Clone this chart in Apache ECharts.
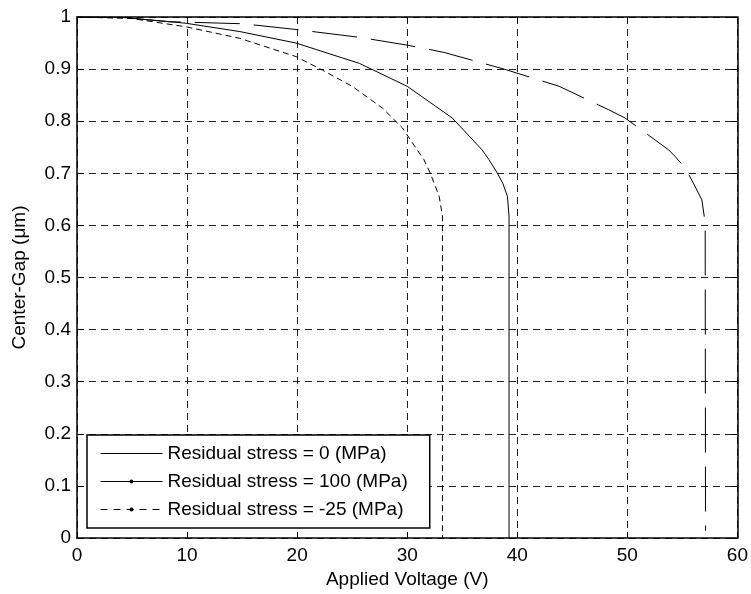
<!DOCTYPE html>
<html>
<head>
<meta charset="utf-8">
<script src="https://cdn.jsdelivr.net/npm/echarts@6/dist/echarts.min.js"></script>
<style>
html,body{margin:0;padding:0;background:#fff;}
#c{width:751px;height:594px;}
</style>
</head>
<body>
<div id="c"></div>
<script>
// Data
var seriesNames = ['Residual stress = 0 (MPa)', 'Residual stress = 100 (MPa)', 'Residual stress = -25 (MPa)'];

var s0V = [0, 4.2, 9.9, 14.8, 19.9, 25.65, 30.0, 34.1, 36.8, 37.4, 38.2, 38.7, 39.1, 39.25, 39.25];
var s0G = [1, 0.999, 0.988, 0.972, 0.950, 0.911, 0.867, 0.806, 0.745, 0.727, 0.700, 0.680, 0.656, 0.618, 0];

var s100V = [0, 4.2, 8.4, 15.1, 19.9, 25.65, 30.0, 33.35, 38.8, 43.8, 48.3, 49.8, 53.75, 54.35, 55.26, 56.0, 56.77, 57.07, 57.1];
var s100G = [1, 0.999, 0.991, 0.987, 0.976, 0.961, 0.946, 0.932, 0.900, 0.867, 0.822, 0.806, 0.745, 0.732, 0.710, 0.681, 0.649, 0.605, 0.014];

var sm25V = [0, 5.0, 9.94, 14.8, 19.9, 22.3, 25.0, 27.76, 29.57, 30.9, 31.5, 32.1, 32.9, 33.2, 33.2];
var sm25G = [1, 0.997, 0.981, 0.959, 0.924, 0.898, 0.867, 0.825, 0.787, 0.745, 0.727, 0.700, 0.656, 0.618, 0];

var xMin = 0, xMax = 60, xStep = 10;
var yMin = 0, yMax = 1, yStep = 0.1;

function pairs(a, b) { return a.map(function (v, i) { return [v, b[i]]; }); }

var FONT = 'Liberation Sans, Arial, sans-serif';
var FS = 19;
var chart = echarts.init(document.getElementById('c'), null, {renderer: 'canvas'});
var gridLine = {show: true, lineStyle: {color: '#222', width: 1, type: [7, 5]}};
var boxLine = {show: true, onZero: false, lineStyle: {color: '#000', width: 1.5}};
var tick = {show: true, inside: true, length: 6, lineStyle: {color: '#000', width: 1}};

chart.setOption({
  animation: false,
  backgroundColor: '#fff',
  textStyle: {fontFamily: FONT, color: '#000'},
  grid: {left: 77, right: 12, top: 17, bottom: 55},
  xAxis: [{
    type: 'value', min: xMin, max: xMax, interval: xStep,
    name: 'Applied Voltage (V)', nameLocation: 'middle', nameGap: 32,
    nameTextStyle: {fontSize: FS, color: '#000', fontFamily: FONT},
    axisLine: boxLine, axisTick: tick,
    axisLabel: {fontSize: FS, color: '#000', margin: 8, fontFamily: FONT},
    splitLine: gridLine
  }, {
    type: 'value', min: xMin, max: xMax, interval: xStep, position: 'top',
    axisLine: boxLine, axisTick: tick,
    axisLabel: {show: false}, splitLine: {show: false}
  }],
  yAxis: [{
    type: 'value', min: yMin, max: yMax, interval: yStep,
    name: 'Center-Gap (\u03bcm)', nameLocation: 'middle', nameGap: 48,
    nameTextStyle: {fontSize: FS, color: '#000', fontFamily: FONT},
    axisLine: boxLine, axisTick: tick,
    axisLabel: {fontSize: FS, color: '#000', margin: 6, fontFamily: FONT},
    splitLine: gridLine
  }, {
    type: 'value', min: yMin, max: yMax, interval: yStep, position: 'right',
    axisLine: boxLine, axisTick: tick,
    axisLabel: {show: false}, splitLine: {show: false}
  }],
  legend: {
    orient: 'vertical', left: 87, top: 435,
    backgroundColor: '#fff', borderColor: '#000', borderWidth: 1.5,
    padding: [9, 22, 9, 13],
    itemWidth: 62, itemHeight: 5, itemGap: 9,
    textStyle: {fontSize: FS, color: '#000', fontFamily: FONT, lineHeight: 19},
    data: [
      {name: seriesNames[0], lineStyle: {width: 1, type: 'solid'}, itemStyle: {color: 'rgba(0,0,0,0)', opacity: 0}},
      {name: seriesNames[1], lineStyle: {width: 1, type: 'solid'}},
      {name: seriesNames[2], lineStyle: {width: 1, type: [7, 6]}}
    ]
  },
  series: [{
    name: seriesNames[0], type: 'line', data: pairs(s0V, s0G),
    symbol: 'none', lineStyle: {color: '#000', width: 1}, itemStyle: {color: '#000'}
  }, {
    name: seriesNames[1], type: 'line', data: pairs(s100V, s100G),
    symbol: 'circle', symbolSize: 4, showSymbol: false,
    lineStyle: {color: '#000', width: 1, type: [45, 14]}, itemStyle: {color: '#000'}
  }, {
    name: seriesNames[2], type: 'line', data: pairs(sm25V, sm25G),
    symbol: 'circle', symbolSize: 4, showSymbol: false,
    lineStyle: {color: '#000', width: 1, type: [6, 4]}, itemStyle: {color: '#000'}
  }]
});
</script>
</body>
</html>
